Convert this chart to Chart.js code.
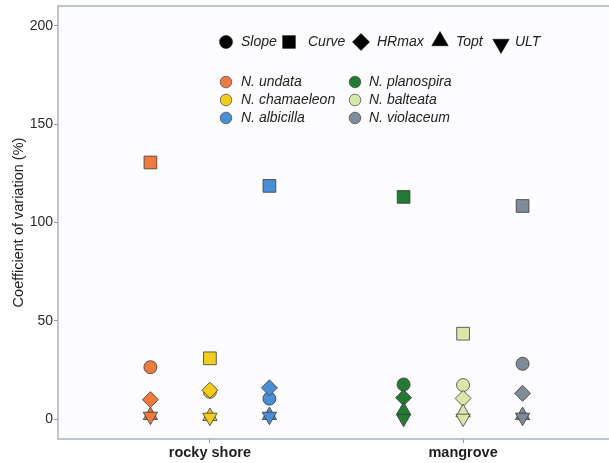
<!DOCTYPE html>
<html>
<head>
<meta charset="utf-8">
<script src="https://cdn.jsdelivr.net/npm/chart.js@4/dist/chart.umd.min.js"></script>
<style>
  html, body { margin: 0; padding: 0; background: #ffffff; overflow: hidden; }
  #wrap { width: 609px; height: 463px; overflow: hidden; }
  #cv { display: block; }
</style>
</head>
<body>
<!-- the panel runs slightly past the right edge of the frame -->
<div id="wrap"><canvas id="cv" width="615" height="463"></canvas></div>
<script>
// Habitats on the x axis
const habitats = ['rocky shore', 'mangrove'];

// Species, the habitat each belongs to, and its fill colour
const species = ['N. undata', 'N. chamaeleon', 'N. albicilla', 'N. planospira', 'N. balteata', 'N. violaceum'];
const speciesHabitat = [0, 0, 0, 1, 1, 1];
const speciesColors = ['#EE7A3E', '#F2CD1D', '#4A8ED6', '#237A32', '#D9E8A8', '#7F8B98'];

// Thermal performance metrics (one marker shape each)
const metrics = ['Slope', 'Curve', 'HRmax', 'Topt', 'ULT'];

// Coefficient of variation (%) per species, in metric order
const cvUndata      = [26.5, 130.5, 10.0, 2.0, 1.5];
const cvChamaeleon  = [14.0,  31.0, 14.8, 1.5, 1.0];
const cvAlbicilla   = [10.5, 118.6, 16.0, 2.0, 1.5];
const cvPlanospira  = [17.7, 113.0, 11.0, 4.5, 0.4];
const cvBalteata    = [17.4,  43.5, 10.6, 3.5, 0.5];
const cvViolaceum   = [28.2, 108.4, 13.2, 2.0, 1.0];
const cvValues = [cvUndata, cvChamaeleon, cvAlbicilla, cvPlanospira, cvBalteata, cvViolaceum];

// Y axis tick values
const yTicks = [0, 50, 100, 150, 200];

const FONT = "'Liberation Sans', Arial, Helvetica, sans-serif";
const metricStyle = ['circle', 'rect', 'rectRot', 'triangle', 'triangle'];
const metricRotation = [0, 0, 0, 0, 180];
const metricRadius = [6.5, 9, 8, 8.3, 8.3];
const dodgeWidth = 0.235;

// position of each species within its habitat group (-1, 0, 1)
function dodgeSlot(i) {
  const group = speciesHabitat.map((h, k) => k).filter(k => speciesHabitat[k] === speciesHabitat[i]);
  return group.indexOf(i) - (group.length - 1) / 2;
}

const datasets = species.map((name, i) => ({
  label: name,
  data: cvValues[i].map(v => ({ x: speciesHabitat[i] + 1 + dodgeSlot(i) * dodgeWidth, y: v })),
  pointStyle: metricStyle,
  pointRotation: metricRotation,
  pointRadius: metricRadius,
  pointHoverRadius: metricRadius,
  backgroundColor: speciesColors[i],
  borderColor: '#3a3a3a',
  borderWidth: 0.8,
  showLine: false
}));

// panel background, panel border and the two in-panel keys
const panelPlugin = {
  id: 'panel',
  beforeDatasetsDraw(chart) {
    const { ctx, chartArea: a } = chart;
    ctx.save();
    ctx.fillStyle = '#FCFCFE';
    ctx.fillRect(a.left, a.top, a.right - a.left, a.bottom - a.top);
    ctx.strokeStyle = '#A9B3BF';
    ctx.lineWidth = 1.5;
    ctx.strokeRect(a.left, a.top, a.right - a.left, a.bottom - a.top);
    ctx.restore();
  },
  afterDatasetsDraw(chart) {
    const { ctx } = chart;
    ctx.save();
    ctx.font = 'italic 14px ' + FONT;
    ctx.textBaseline = 'middle';
    ctx.textAlign = 'left';

    // metric shape key
    const shapeKey = [
      { sx: 226, tx: 241, y: 42, r: 6.5 },
      { sx: 289, tx: 308, y: 42, r: 9 },
      { sx: 361, tx: 377, y: 42, r: 8.5 },
      { sx: 440, tx: 456, y: 41, r: 9.5 },
      { sx: 501, tx: 515, y: 44, r: 9.5 }
    ];
    metrics.forEach((m, j) => {
      const k = shapeKey[j];
      ctx.fillStyle = '#000';
      ctx.strokeStyle = '#000';
      ctx.lineWidth = 0.5;
      Chart.helpers.drawPoint(ctx, { pointStyle: metricStyle[j], radius: k.r, rotation: metricRotation[j], borderWidth: 0.5 }, k.sx, k.y);
      ctx.fillStyle = '#222';
      ctx.fillText(m, k.tx, 42);
    });

    // species colour key, two columns of three
    species.forEach((name, i) => {
      const col = Math.floor(i / 3), row = i % 3;
      const cx = col === 0 ? 226 : 355;
      const tx = col === 0 ? 241 : 369;
      const y = 82 + row * 18;
      ctx.fillStyle = speciesColors[i];
      ctx.strokeStyle = '#555';
      ctx.lineWidth = 0.8;
      ctx.beginPath();
      ctx.arc(cx, y, 5.8, 0, Math.PI * 2);
      ctx.fill();
      ctx.stroke();
      ctx.fillStyle = '#222';
      ctx.fillText(name, tx, y);
    });
    ctx.restore();
  }
};

new Chart(document.getElementById('cv'), {
  type: 'scatter',
  data: { datasets },
  plugins: [panelPlugin],
  options: {
    responsive: false,
    animation: false,
    events: [],
    layout: { autoPadding: false, padding: { top: 6, right: 0, bottom: 0, left: 0 } },
    plugins: { legend: { display: false }, tooltip: { enabled: false } },
    scales: {
      x: {
        type: 'linear',
        min: 0.4,
        max: 2.6,
        afterBuildTicks: s => { s.ticks = habitats.map((h, i) => ({ value: i + 1 })); },
        afterFit: s => { s.height = 24; s.paddingLeft = 0; s.paddingRight = 0; },
        ticks: {
          callback: v => habitats[Math.round(v) - 1],
          font: { family: FONT, size: 14.5, weight: 'bold' },
          color: '#1e1e1e',
          padding: 1,
          maxRotation: 0
        },
        grid: { drawOnChartArea: false, drawTicks: true, tickLength: 4, color: '#8E99A5', lineWidth: 1 },
        border: { display: false }
      },
      y: {
        min: -10,
        max: 210,
        afterBuildTicks: s => { s.ticks = yTicks.map(v => ({ value: v })); },
        afterFit: s => { s.width = 58; s.paddingTop = 0; s.paddingBottom = 0; },
        ticks: {
          font: { family: FONT, size: 14 },
          color: '#2b2b2b',
          padding: 1
        },
        grid: { drawOnChartArea: false, drawTicks: true, tickLength: 4, color: '#8E99A5', lineWidth: 1 },
        border: { display: false },
        title: {
          display: true,
          text: 'Coefficient of variation (%)',
          font: { family: FONT, size: 14.5 },
          color: '#222',
          padding: { top: 10, bottom: 0 }
        }
      }
    }
  }
});
</script>
</body>
</html>
